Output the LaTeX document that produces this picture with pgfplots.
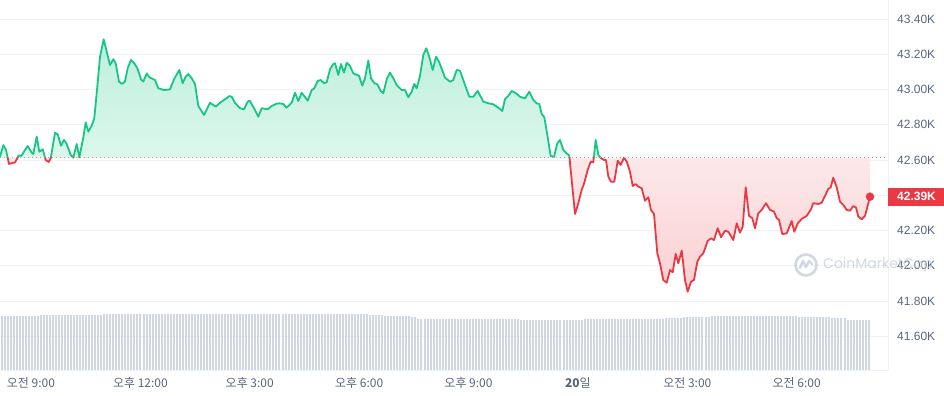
\documentclass[border=0pt]{standalone}
\usepackage{pgfplots}
\pgfplotsset{compat=1.18}
\usepackage{pgfplotstable}
\usepackage{fontspec}
\setmainfont{Liberation Sans}
\newfontfamily\kr{Noto Sans CJK KR}
\newfontfamily\wm{Poppins}
\definecolor{cmcgreen}{HTML}{16C784}
\definecolor{cmcred}{HTML}{EA3943}
\definecolor{labgray}{HTML}{58667E}
\definecolor{gridc}{HTML}{EFF2F5}
\definecolor{volc}{HTML}{CFD6E4}
\definecolor{dotc}{HTML}{A1A7BB}
\definecolor{wmc}{HTML}{C3CAD6}

\pgfplotstableread{
h p
8.150 42.619
8.241 42.685
8.315 42.657
8.397 42.578
8.561 42.587
8.625 42.610
8.652 42.625
8.745 42.625
8.836 42.657
8.910 42.680
9.019 42.642
9.063 42.634
9.157 42.733
9.228 42.647
9.321 42.661
9.403 42.600
9.486 42.589
9.541 42.610
9.659 42.755
9.733 42.746
9.823 42.681
9.905 42.714
9.979 42.691
10.089 42.629
10.160 42.613
10.254 42.691
10.325 42.616
10.435 42.727
10.501 42.814
10.572 42.761
10.665 42.795
10.736 42.837
10.819 43.016
10.893 43.186
10.994 43.285
11.077 43.215
11.167 43.139
11.258 43.172
11.323 43.149
11.414 43.045
11.496 43.032
11.578 43.045
11.652 43.121
11.743 43.168
11.833 43.149
11.916 43.121
12.017 43.058
12.080 43.045
12.174 43.092
12.245 43.070
12.401 43.054
12.492 43.007
12.656 42.997
12.813 43.001
12.922 43.058
13.068 43.111
13.161 43.036
13.243 43.073
13.315 43.088
13.408 43.064
13.498 43.032
13.589 42.907
13.745 42.856
13.910 42.925
14.066 42.903
14.184 42.925
14.321 42.945
14.439 42.963
14.505 42.959
14.595 42.925
14.732 42.894
14.842 42.888
14.944 42.931
14.999 42.937
15.116 42.894
15.234 42.846
15.328 42.894
15.492 42.888
15.602 42.907
15.720 42.918
15.802 42.922
15.920 42.918
16.013 42.897
16.150 42.925
16.241 42.982
16.331 42.935
16.425 42.982
16.589 42.937
16.699 42.997
16.770 43.007
16.864 43.049
16.946 43.054
17.036 43.036
17.110 43.041
17.201 43.115
17.291 43.145
17.338 43.149
17.429 43.083
17.503 43.145
17.585 43.096
17.659 43.152
17.749 43.134
17.840 43.092
17.933 43.083
17.996 43.079
18.087 43.022
18.161 43.064
18.251 43.164
18.325 43.064
18.416 43.036
18.498 43.030
18.591 42.992
18.663 42.979
18.756 43.058
18.847 43.096
18.937 43.064
19.030 43.026
19.167 42.997
19.258 42.997
19.348 42.956
19.442 42.988
19.513 43.032
19.579 43.007
19.669 43.077
19.760 43.196
19.842 43.234
19.924 43.186
20.018 43.111
20.108 43.186
20.190 43.158
20.355 43.067
20.492 43.045
20.583 43.054
20.676 43.111
20.766 43.107
20.904 43.026
21.022 42.959
21.131 42.959
21.252 42.992
21.406 42.931
21.543 42.922
21.680 42.916
21.817 42.897
21.927 42.878
22.001 42.946
22.091 42.965
22.184 42.992
22.302 42.979
22.412 42.959
22.549 42.950
22.667 42.988
22.777 42.941
22.870 42.922
22.941 42.918
23.007 42.861
23.079 42.843
23.161 42.742
23.254 42.623
23.345 42.619
23.435 42.695
23.509 42.714
23.600 42.657
23.693 42.638
23.764 42.625
23.921 42.294
24.011 42.355
24.104 42.430
24.176 42.472
24.269 42.544
24.351 42.591
24.422 42.587
24.488 42.714
24.560 42.629
24.634 42.610
24.724 42.600
24.771 42.600
24.834 42.506
24.908 42.477
24.998 42.477
25.092 42.596
25.174 42.572
25.264 42.613
25.339 42.591
25.429 42.534
25.503 42.453
25.585 42.464
25.657 42.449
25.750 42.440
25.840 42.369
25.931 42.389
26.005 42.317
26.087 42.294
26.178 42.071
26.252 42.014
26.342 41.919
26.436 41.904
26.526 41.976
26.600 41.963
26.682 42.067
26.754 42.014
26.847 42.086
26.938 41.919
27.012 41.853
27.102 41.910
27.184 41.919
27.275 42.023
27.349 42.052
27.439 42.071
27.560 42.141
27.651 42.156
27.733 42.146
27.834 42.213
27.925 42.162
28.035 42.199
28.125 42.193
28.262 42.146
28.356 42.241
28.446 42.188
28.520 42.222
28.602 42.445
28.693 42.283
28.783 42.270
28.857 42.213
28.948 42.298
29.041 42.317
29.159 42.355
29.269 42.317
29.379 42.307
29.453 42.270
29.516 42.260
29.606 42.180
29.727 42.184
29.864 42.254
29.935 42.193
30.029 42.241
30.138 42.266
30.275 42.283
30.393 42.321
30.456 42.355
30.594 42.351
30.687 42.358
30.868 42.436
30.934 42.445
31.005 42.500
31.098 42.445
31.189 42.364
31.279 42.345
31.372 42.317
31.463 42.313
31.554 42.339
31.628 42.330
31.691 42.279
31.784 42.264
31.874 42.283
32.012 42.392
}\price

\pgfplotstableread[row sep=\\]{
v\\
54\\54\\54\\54\\54\\54\\54\\54\\54\\54\\
54\\54\\54\\
54.5\\54.5\\54.5\\54.5\\54.5\\54.5\\54.5\\54.5\\54.5\\54.5\\
54.5\\54.5\\54.5\\54.5\\54.5\\54.5\\54.5\\54.5\\54.5\\54.5\\
54.5\\
55.5\\55.5\\55.5\\55.5\\55.5\\55.5\\55.5\\55.5\\55.5\\55.5\\
55.5\\55.5\\55.5\\55.5\\55.5\\55.5\\55.5\\55.5\\55.5\\55.5\\
55.5\\55.5\\55.5\\55.5\\55.5\\55.5\\55.5\\55.5\\55.5\\55.5\\
55.5\\55.5\\55.5\\55.5\\55.5\\55.5\\55.5\\55.5\\55.5\\55.5\\
55.5\\55.5\\55.5\\55.5\\55.5\\55.5\\55.5\\55.5\\55.5\\55.5\\
55.5\\55.5\\55.5\\55.5\\55.5\\55.5\\55.5\\55.5\\55.5\\55.5\\
55.5\\55.5\\55.5\\55.5\\55.5\\55.5\\55.5\\55.5\\55.5\\55.5\\
55.5\\55.5\\55.5\\55.5\\55.5\\55.5\\55.5\\55.5\\55.5\\55.5\\
55.5\\55.5\\55.5\\55.5\\55.5\\55.5\\55.5\\55.5\\
54.5\\54.5\\54.5\\54.5\\54.5\\
53.5\\53.5\\53.5\\53.5\\53.5\\53.5\\53.5\\53.5\\53.5\\
52.5\\52.5\\
51\\51\\51\\51\\51\\51\\51\\51\\51\\51\\
51\\51\\51\\51\\51\\51\\51\\51\\51\\51\\
51\\51\\51\\51\\51\\51\\51\\51\\51\\51\\
51\\51\\51\\51\\
50\\50\\50\\50\\50\\50\\50\\50\\50\\50\\
50\\50\\50\\50\\50\\50\\50\\50\\50\\50\\
50\\
51\\51\\51\\51\\51\\51\\51\\51\\51\\51\\
51\\51\\51\\51\\51\\51\\51\\51\\51\\51\\
51\\51\\51\\51\\51\\51\\51\\
52\\52\\52\\52\\52\\52\\
53\\53\\53\\53\\53\\53\\53\\53\\53\\
54\\54\\54\\54\\54\\54\\54\\54\\54\\54\\
54\\54\\54\\54\\54\\54\\54\\54\\54\\54\\
54\\54\\54\\54\\54\\54\\54\\54\\54\\
53\\53\\53\\53\\53\\53\\53\\53\\53\\53\\
53\\
52\\52\\52\\52\\52\\
50\\50\\50\\50\\50\\50\\50\\50\\
}\vol

\pgfplotsset{
  frame/.style={at={(0,0)}, anchor=north west, width=888bp, height=370bp, scale only axis,
    xmin=8.15, xmax=32.505},
}

\begin{document}
\begin{tikzpicture}
\useasboundingbox (0,0) rectangle (944bp,-396bp);
% base axis: grid, ticks, labels
\begin{axis}[
  frame, ymin=41.4087, ymax=43.5081,
  axis x line*=bottom, axis y line*=right,
  axis line style={draw=gridc, line width=1bp, -},
  xtick={9,12,15,18,21,24,27,30},
  xticklabels={오전 9:00, 오후 12:00, 오후 3:00, 오후 6:00, 오후 9:00, {\textbf{20}일}, 오전 3:00, 오전 6:00},
  ytick={41.6,41.8,42.0,42.2,42.4,42.6,42.8,43.0,43.2,43.4},
  yticklabels={41.60K,41.80K,42.00K,42.20K,{},42.60K,42.80K,43.00K,43.20K,43.40K},
  ymajorgrids, major grid style={draw=gridc, line width=1bp},
  major tick length=0pt,
  tick label style={text=labgray},
  xticklabel style={font=\kr\fontsize{12bp}{14bp}\selectfont, anchor=center, inner sep=0pt, yshift=-13bp},
  yticklabel style={font=\fontsize{12bp}{14bp}\selectfont, anchor=west, inner sep=0pt, xshift=9bp},
]
\addplot[draw=none] coordinates {(8.15,42.612)};
\coordinate (lastlab) at (axis cs:32.505,42.392);
\end{axis}
% upper part (above the opening price): green
\begin{axis}[frame, height=157.93bp, ymin=42.612, ymax=43.5081, hide axis]
\addplot[draw=none, top color=cmcgreen!28, middle color=cmcgreen!4, bottom color=white]
  table[x=h, y=p] {\price} -- (axis cs:32.012,42.612) -- (axis cs:8.15,42.612) -- cycle;
\addplot[cmcgreen, line width=1.8bp, line join=round] table[x=h, y=p] {\price};
\end{axis}
% lower part (below the opening price): red
\begin{axis}[frame, at={(0,-157.93bp)}, height=212.07bp, ymin=41.4087, ymax=42.612, hide axis]
\addplot[draw=none, top color=white, middle color=cmcred!4, bottom color=cmcred!24]
  table[x=h, y=p] {\price} -- (axis cs:32.012,42.612) -- (axis cs:8.15,42.612) -- cycle;
\addplot[cmcred, line width=1.8bp, line join=round] table[x=h, y=p] {\price};
\end{axis}
% volume
\begin{axis}[at={(0,0)}, anchor=north west, width=888bp, height=370bp, scale only axis, hide axis,
  xmin=-0.5, xmax=293.4, ymin=0, ymax=370]
\addplot[ycomb, volc, line width=2bp, mark=none] table[x expr=\coordindex, y=v] {\vol};
\end{axis}
% opening price line and last price
\begin{axis}[frame, ymin=41.4087, ymax=43.5081, hide axis]
\addplot[dotc, line width=1bp, dash pattern=on 1bp off 3bp] coordinates {(8.15,42.612) (32.505,42.612)};
\addplot[only marks, mark=*, mark size=4bp, cmcred] coordinates {(32.012,42.392)};
\end{axis}
\node[anchor=west, fill=cmcred, text=white, font=\bfseries\fontsize{12bp}{14bp}\selectfont,
  inner xsep=9bp, inner ysep=0pt, minimum height=18bp] at (lastlab) {42.39K};
% watermark
\begin{scope}[opacity=0.75]
\draw[wmc, line width=2.6bp] (806bp,-265bp) circle (10.5bp);
\draw[wmc, line width=2.4bp, line join=round, line cap=round]
  (800bp,-268bp) -- (803bp,-261bp) -- (806bp,-267bp) -- (809bp,-261bp) -- (812bp,-264bp);
\node[anchor=west, inner sep=0pt, text=wmc, font=\wm\fontsize{14bp}{16bp}\selectfont] at (823bp,-265bp) {CoinMarketCap};
\end{scope}
\end{tikzpicture}
\end{document}
